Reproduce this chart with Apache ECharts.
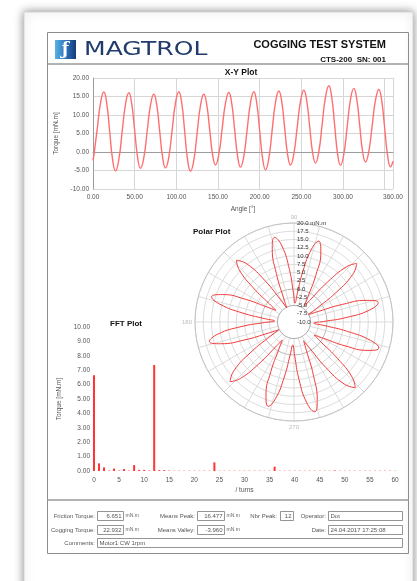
<!DOCTYPE html>
<html><head><meta charset="utf-8">
<script src="https://cdn.jsdelivr.net/npm/echarts@6/dist/echarts.min.js"></script>
<style>html,body{margin:0;padding:0;background:#fff;overflow:hidden}#c{width:417px;height:581px}</style>
</head><body><div id="c"></div>
<script>
// ---- data ----
const angleDeg = [0, 1, 5, 9, 13, 16.5, 20, 23.5, 27,
  31, 35, 39, 43, 46.5, 50, 53.5, 57,
  61, 65, 69, 73, 76.5, 80, 83.5, 87,
  91, 95, 99, 103, 106.5, 110, 113.5, 117,
  121, 125, 129, 133, 136.5, 140, 143.5, 147,
  151, 155, 159, 163, 166.5, 170, 173.5, 177,
  181, 185, 189, 193, 196.5, 200, 203.5, 207,
  211, 215, 219, 223, 226.5, 230, 233.5, 237,
  241, 245, 249, 253, 256.5, 260, 263.5, 267,
  271, 275, 279, 283, 286.5, 290, 293.5, 297,
  301, 305, 309, 313, 316.5, 320, 323.5, 327,
  331, 335, 339, 343, 346.5, 350, 353.5, 357, 360];
const torque = [-2.3, -1.0, 6.1, 13.2, 16.2, 13.1, 5.6, -2.0, -5.1,
  -2.0, 5.5, 12.9, 16.0, 13.0, 5.8, -1.4, -4.4,
  -1.5, 5.6, 12.7, 15.6, 12.7, 5.7, -1.4, -4.3,
  -1.3, 6.0, 13.3, 16.3, 13.2, 5.6, -2.1, -5.2,
  -2.2, 5.2, 12.6, 15.6, 12.8, 6.1, -0.7, -3.5,
  -0.6, 6.3, 13.2, 16.1, 13.1, 6.0, -1.1, -4.1,
  -1.1, 6.1, 13.3, 16.3, 13.2, 5.8, -1.7, -4.8,
  -1.7, 5.9, 13.4, 16.5, 13.6, 6.5, -0.6, -3.5,
  -0.5, 6.6, 13.7, 16.7, 13.8, 6.9, -0.1, -3.0,
  0.1, 7.5, 14.8, 17.9, 14.8, 7.2, -0.5, -3.6,
  -0.6, 6.8, 14.2, 17.2, 14.3, 7.3, 0.2, -2.7,
  0.2, 7.1, 14.0, 16.9, 13.8, 6.5, -0.9, -4.0, -2.5];
const fftTurns = [0,1,2,3,4,5,6,7,8,9,10,11,12,13,14,15,16,17,18,19,20,
  21,22,23,24,25,26,27,28,29,30,31,32,33,34,35,36,37,38,39,40,
  41,42,43,44,45,46,47,48,49,50,51,52,53,54,55,56,57,58,59,60];
const fftTorque = [6.65,0.53,0.25,0.03,0.17,0.03,0.14,0.03,0.41,0.08,0.08,0.03,7.36,0.06,0.06,0.03,0.02,0.02,0.02,0.02,0.02,
  0.02,0.02,0.02,0.60,0.02,0.02,0.02,0.02,0.02,0.02,0.02,0.02,0.02,0.02,0.02,0.30,0.02,0.02,0.02,0.02,
  0.02,0.02,0.02,0.02,0.02,0.02,0.02,0.04,0.02,0.02,0.02,0.02,0.02,0.02,0.02,0.02,0.02,0.02,0.02,0.02];
const headerTitle = 'COGGING TEST SYSTEM';
const headerSub = 'CTS-200  SN: 001';
const brand = 'MAGTROL';
const footerLabels = ['Friction Torque:', 'Means Peak:', 'Nbr Peak:', 'Operator:', 'Cogging Torque:', 'Means Valley:', 'Date:', 'Comments:'];
const footerValues = ['6.651', '16.477', '12', 'Dot', '22.932', '-3.960', '24.04.2017 17:25:08', 'Motor1 CW 1rpm'];
const unitText = 'mN.m';

// ---- chart ----
const FONT = '"Liberation Sans", Arial, sans-serif';
const chart = echarts.init(document.getElementById('c'), null, {renderer: 'canvas'});

const POLAR_C = [294, 322], POLAR_R = 99;
const ringColors = [];
for (let v = -10; v <= 20; v += 2.5) ringColors.push((v === 0 || v === -5) ? '#a6a6a6' : '#d3d3d3');

function txt(x, y, text, size, opts) {
  opts = opts || {};
  return {type: 'text', x: x, y: y, z: opts.z || 10, scaleX: opts.scaleX || 1,
    style: {text: text, font: (opts.weight || 'normal') + ' ' + size + 'px ' + (opts.family || FONT),
      fill: opts.color || '#444', align: opts.align || 'left', verticalAlign: 'middle'}};
}
function box(x, y, w, h) {
  return {type: 'rect', z: 9, shape: {x: x, y: y, width: w, height: h},
    style: {fill: '#fff', stroke: '#7a7a7a', lineWidth: 0.8}};
}

const g = [];
// paper with shadow
g.push({type: 'rect', z: 0, shape: {x: 24, y: 12, width: 389, height: 640},
  style: {fill: '#fff', shadowBlur: 9, shadowColor: 'rgba(0,0,0,0.45)', stroke: '#cfcfcf', lineWidth: 0.8}});
// frame
g.push({type: 'rect', z: 1, shape: {x: 47.5, y: 32.5, width: 361, height: 521},
  style: {fill: 'none', stroke: '#8c8c8c', lineWidth: 1}});
g.push({type: 'line', z: 1, shape: {x1: 47, y1: 64, x2: 409, y2: 64}, style: {stroke: '#9a9a9a', lineWidth: 1.6}});
g.push({type: 'line', z: 1, shape: {x1: 47, y1: 500, x2: 409, y2: 500}, style: {stroke: '#9a9a9a', lineWidth: 1.6}});
// inner hub of the polar grid (radial lines start at the -5 ring)
g.push({type: 'circle', z: 3.5, shape: {cx: POLAR_C[0], cy: POLAR_C[1], r: POLAR_R * 5 / 30},
  style: {fill: '#fff', stroke: '#a6a6a6', lineWidth: 0.8}});
// logo
g.push({type: 'rect', z: 5, shape: {x: 55, y: 40, width: 21, height: 19},
  style: {fill: new echarts.graphic.LinearGradient(0, 0, 1, 0, [{offset: 0, color: '#58b2e6'}, {offset: 0.55, color: '#2a6fb8'}, {offset: 1, color: '#173a78'}])}});
g.push(txt(65.5, 50, 'ƒ', 17, {color: '#ffffff', align: 'center', family: '"DejaVu Serif", serif', weight: 'bold', z: 6}));
g.push(txt(84, 50.5, brand, 19, {color: '#213b6c', family: '"DejaVu Sans", sans-serif', scaleX: 1.32}));
g.push(txt(386, 45, headerTitle, 11, {color: '#111', weight: 'bold', align: 'right'}));
g.push(txt(386, 59.5, headerSub, 8, {color: '#111', weight: 'bold', align: 'right'}));
// plot titles
g.push(txt(241, 73, 'X-Y Plot', 8.5, {color: '#111', weight: 'bold', align: 'center'}));
g.push(txt(193, 232, 'Polar Plot', 8, {color: '#111', weight: 'bold'}));
g.push(txt(110, 324, 'FFT Plot', 8, {color: '#111', weight: 'bold'}));
// footer
const FS = 6;
const rows = [516, 530, 543];
const lay = [
  {lx: 95, r: 0, bx: 97, bw: 26, va: 'right', unit: true},
  {lx: 195, r: 0, bx: 197, bw: 27, va: 'right', unit: true},
  {lx: 277, r: 0, bx: 280, bw: 13, va: 'right'},
  {lx: 326, r: 0, bx: 328, bw: 74, va: 'left'},
  {lx: 95, r: 1, bx: 97, bw: 26, va: 'right', unit: true},
  {lx: 195, r: 1, bx: 197, bw: 27, va: 'right', unit: true},
  {lx: 326, r: 1, bx: 328, bw: 74, va: 'left'},
  {lx: 95, r: 2, bx: 97, bw: 305, va: 'left'}
];
lay.forEach((L, i) => {
  const y = rows[L.r];
  g.push(txt(L.lx, y, footerLabels[i], FS, {align: 'right', color: '#555'}));
  g.push(box(L.bx + 0.5, y - 4.5, L.bw, 9));
  if (L.va === 'right') g.push(txt(L.bx + L.bw - 1.5, y, footerValues[i], FS, {align: 'right', color: '#555'}));
  else g.push(txt(L.bx + 2.5, y, footerValues[i], FS, {align: 'left', color: '#555'}));
  if (L.unit) g.push(txt(L.bx + L.bw + 2.5, y, unitText, 5, {color: '#666'}));
});

const axisLab = {fontSize: 6.5, color: '#555', fontFamily: FONT};

const option = {
  backgroundColor: '#ffffff',
  animation: false,
  graphic: {elements: g},
  grid: [
    {left: 93, top: 78, width: 300, height: 111},
    {left: 94, top: 327, width: 301, height: 144}
  ],
  xAxis: [
    {gridIndex: 0, type: 'value', min: 0, max: 360, interval: 50, z: 3,
      axisLine: {show: true, lineStyle: {color: '#9c9c9c'}}, axisTick: {show: false},
      splitLine: {show: true, lineStyle: {color: '#d6d6d6'}},
      axisLabel: Object.assign({margin: 5, formatter: v => v === 350 ? '' : v.toFixed(2)}, axisLab),
      name: 'Angle [°]', nameLocation: 'middle', nameGap: 17, nameTextStyle: axisLab},
    {gridIndex: 1, type: 'value', min: 0, max: 60, interval: 5, z: 3,
      axisLine: {show: false}, axisTick: {show: false}, splitLine: {show: false},
      axisLabel: Object.assign({margin: 6}, axisLab),
      name: '/ turns', nameLocation: 'middle', nameGap: 16, nameTextStyle: axisLab}
  ],
  yAxis: [
    {gridIndex: 0, type: 'value', min: -10, max: 20, interval: 5, z: 3,
      axisLine: {show: true, lineStyle: {color: '#9c9c9c'}}, axisTick: {show: false},
      splitLine: {show: true, lineStyle: {color: '#d6d6d6'}},
      axisLabel: Object.assign({margin: 4, formatter: v => v.toFixed(2)}, axisLab),
      name: 'Torque [mN.m]', nameLocation: 'middle', nameGap: 27, nameTextStyle: axisLab},
    {gridIndex: 1, type: 'value', min: 0, max: 10, interval: 1, z: 3,
      axisLine: {show: false}, axisTick: {show: false}, splitLine: {show: false},
      axisLabel: Object.assign({margin: 4, formatter: v => v.toFixed(2)}, axisLab),
      name: 'Torque [mN.m]', nameLocation: 'middle', nameGap: 24, nameTextStyle: axisLab}
  ],
  polar: [
    {center: POLAR_C, radius: POLAR_R},
    {center: POLAR_C, radius: POLAR_R}
  ],
  angleAxis: [
    {polarIndex: 0, type: 'value', min: 0, max: 360, interval: 15, startAngle: 0, clockwise: false, z: 3,
      axisLine: {show: true, lineStyle: {color: '#c4c4c4'}}, axisTick: {show: false},
      splitLine: {show: true, lineStyle: {color: '#d3d3d3', width: 0.8}},
      axisLabel: {show: true, fontSize: 6, color: '#bdbdbd', margin: 3, fontFamily: FONT,
        formatter: v => (v % 90 === 0 && v !== 0 && v !== 360) ? String(v) : ''}},
    {polarIndex: 1, type: 'value', min: 0, max: 360, startAngle: 90, clockwise: false,
      axisLine: {show: false}, axisTick: {show: false}, axisLabel: {show: false}, splitLine: {show: false}}
  ],
  radiusAxis: [
    {polarIndex: 0, type: 'value', min: -10, max: 20, interval: 2.5, z: 3,
      axisLine: {show: false}, axisTick: {show: false}, axisLabel: {show: false},
      splitLine: {show: true, lineStyle: {color: ringColors, width: 0.8}}},
    {polarIndex: 1, type: 'value', min: -10, max: 20, interval: 2.5, z: 5,
      axisLine: {show: false}, axisTick: {show: false}, splitLine: {show: false},
      axisLabel: {show: true, fontSize: 6, color: '#333', fontFamily: FONT, margin: -3,
        align: 'left', verticalAlign: 'middle',
        formatter: v => v === 20 ? '20.0 mN.m' : v.toFixed(1)}}
  ],
  series: [
    {type: 'line', xAxisIndex: 0, yAxisIndex: 0, z: 4,
      data: angleDeg.map((a, i) => [a, torque[i]]),
      showSymbol: false, smooth: 0.5, lineStyle: {color: '#ff6f6f', width: 1.4}},
    {type: 'line', coordinateSystem: 'polar', polarIndex: 0, z: 4,
      data: angleDeg.map((a, i) => [torque[i], a]),
      showSymbol: false, smooth: 0.5, lineStyle: {color: '#f03c3c', width: 1}},
    {type: 'bar', xAxisIndex: 1, yAxisIndex: 1, z: 4,
      data: fftTurns.map((t, i) => [t, fftTorque[i]]),
      barWidth: 2, itemStyle: {color: '#ff3535'}}
  ]
};
chart.setOption(option);
</script>
</body></html>
